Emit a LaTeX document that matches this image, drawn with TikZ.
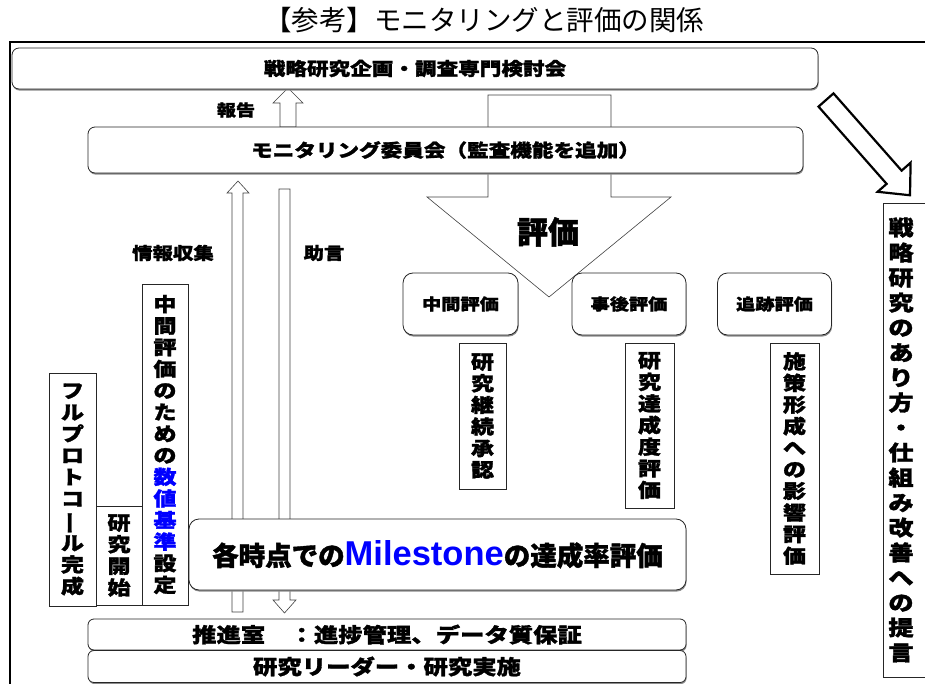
\documentclass[tikz,border=0pt]{standalone}
\usepackage{fontspec}
\usepackage{graphicx}
\setmainfont{Noto Sans CJK JP}[BoldFeatures={FakeBold=1.5}]
\newfontfamily\gothic{Noto Sans CJK JP}[FakeStretch=1.2, BoldFeatures={FakeBold=1.5}]
\newfontfamily\latinfont{Liberation Sans}
\usetikzlibrary{shadows}
\newcommand{\tatebar}{\rotatebox[origin=c]{90}{ー}}
\tikzset{
  rbox/.style={draw=black!85, fill=white, line width=0.8pt, rounded corners=7pt, inner sep=0pt,
    drop shadow={shadow xshift=0.6pt, shadow yshift=-1.6pt, fill=black!45, opacity=1},
    font=\gothic\bfseries\fontsize{18}{18}\selectfont},
  sbox/.style={draw=black!85, fill=white, line width=0.8pt, inner sep=0pt, align=center,
    drop shadow={shadow xshift=0.6pt, shadow yshift=-1.2pt, fill=black!35, opacity=1},
    font=\gothic\bfseries\fontsize{19.2}{21.6}\selectfont},
  lab/.style={inner sep=0pt, font=\gothic\bfseries\fontsize{17}{17}\selectfont},
  blockarrow/.style={draw=black!75, fill=white, line width=0.6pt, line join=miter}
}
\begin{document}
\begin{tikzpicture}[x=1pt,y=-1pt]
  \useasboundingbox (0,0) rectangle (925,684);
  \node[inner sep=0pt, font=\fontsize{27.5}{27.5}\selectfont] (title) at (484,20) {【参考】モニタリングと評価の関係};
  \draw[line width=2.2pt] (10,684) -- (10,42) -- (925,42);

  \draw[blockarrow] (280,127) -- (280,103) -- (273,103) -- (288,88) -- (303,103) -- (296,103) -- (296,127) -- cycle;
  \draw[blockarrow] (488,95) -- (611,95) -- (611,197) -- (671,197) -- (549,297) -- (427,197) -- (488,197) -- cycle;
  \draw[blockarrow] (232,612) -- (232,193) -- (227,193) -- (238,181) -- (249,193) -- (243,193) -- (243,612) -- cycle;
  \draw[blockarrow] (279,189) -- (290,189) -- (290,600) -- (296,600) -- (284.5,613) -- (273,600) -- (279,600) -- cycle;
  \begin{scope}[shift={(826,100)},rotate=-48.6]
    \draw[line width=2.2pt, fill=white, line join=miter] (0,-10) -- (103,-10) -- (103,-22) -- (127,0) -- (103,22) -- (103,10) -- (0,10) -- cycle;
  \end{scope}

  \node[rbox, minimum width=806pt, minimum height=41pt] (council) at (415,68.5) {戦略研究企画・調査専門検討会};
  \node[lab, font=\gothic\bfseries\fontsize{16}{16}\selectfont] (report) at (236,110) {報告};
  \node[rbox, minimum width=715pt, minimum height=46pt] (monitor) at (445.5,150) {モニタリング委員会（監査機能を追加）};
  \node[inner sep=0pt, font=\bfseries\fontsize{31}{31}\selectfont] (eval) at (548,232) {評価};
  \node[lab] (collect) at (173,253) {情報収集};
  \node[lab] (advice) at (324,253) {助言};

  \node[rbox, rounded corners=10pt, minimum width=115pt, minimum height=62pt, font=\gothic\bfseries\fontsize{16}{16}\selectfont] (mid) at (460.5,304) {中間評価};
  \node[rbox, rounded corners=10pt, minimum width=114pt, minimum height=62pt, font=\gothic\bfseries\fontsize{16}{16}\selectfont] (post) at (629,304) {事後評価};
  \node[rbox, rounded corners=10pt, minimum width=114pt, minimum height=62pt, font=\gothic\bfseries\fontsize{16}{16}\selectfont] (follow) at (774.5,304) {追跡評価};

  \node[sbox, minimum width=47pt, minimum height=146pt] (cont) at (482.5,416) {研\\究\\継\\続\\承\\認};
  \node[sbox, minimum width=49pt, minimum height=165pt] (achv) at (649.5,425.5) {研\\究\\達\\成\\度\\評\\価};
  \node[sbox, minimum width=49pt, minimum height=231pt] (policy) at (794.5,458.5) {施\\策\\形\\成\\へ\\の\\影\\響\\評\\価};

  \node[sbox, minimum width=47pt, minimum height=233pt] (proto) at (72.5,489.5) {フ\\ル\\プ\\ロ\\ト\\コ\\\tatebar\\ル\\完\\成};
  \node[sbox, minimum width=46pt, minimum height=99pt] (start) at (119,555.5) {研\\究\\開\\始};
  \node[sbox, minimum width=46pt, minimum height=321pt] (crit) at (165,444.5) {中\\間\\評\\価\\の\\た\\め\\の\\\textcolor{blue}{数}\\\textcolor{blue}{値}\\\textcolor{blue}{基}\\\textcolor{blue}{準}\\設\\定};

  \node[rbox, rounded corners=10pt, minimum width=497pt, minimum height=71pt, font=\bfseries\fontsize{26.5}{26.5}\selectfont] (mile) at (437.5,554.5) {各時点での{\latinfont\bfseries\fontsize{34.5}{34.5}\selectfont\color{blue}Milestone}の達成率評価};

  \node[rbox, rounded corners=6pt, minimum width=598pt, minimum height=31pt, font=\gothic\bfseries\fontsize{20.3}{20.3}\selectfont] (office) at (387,634.5) {推進室　：進捗管理、データ質保証};
  \node[rbox, rounded corners=6pt, minimum width=598pt, minimum height=32pt, font=\gothic\bfseries\fontsize{20.3}{20.3}\selectfont] (leader) at (387,666.5) {研究リーダー・研究実施};

  \node[sbox, minimum width=46pt, minimum height=474pt] (proposalbox) at (906,440) {};
  \node[inner sep=0pt, align=center, font=\gothic\bfseries\fontsize{21}{25}\selectfont] (proposal) at (901,440) {戦\\略\\研\\究\\の\\あ\\り\\方\\・\\仕\\組\\み\\改\\善\\へ\\の\\提\\言};
\end{tikzpicture}
\end{document}
